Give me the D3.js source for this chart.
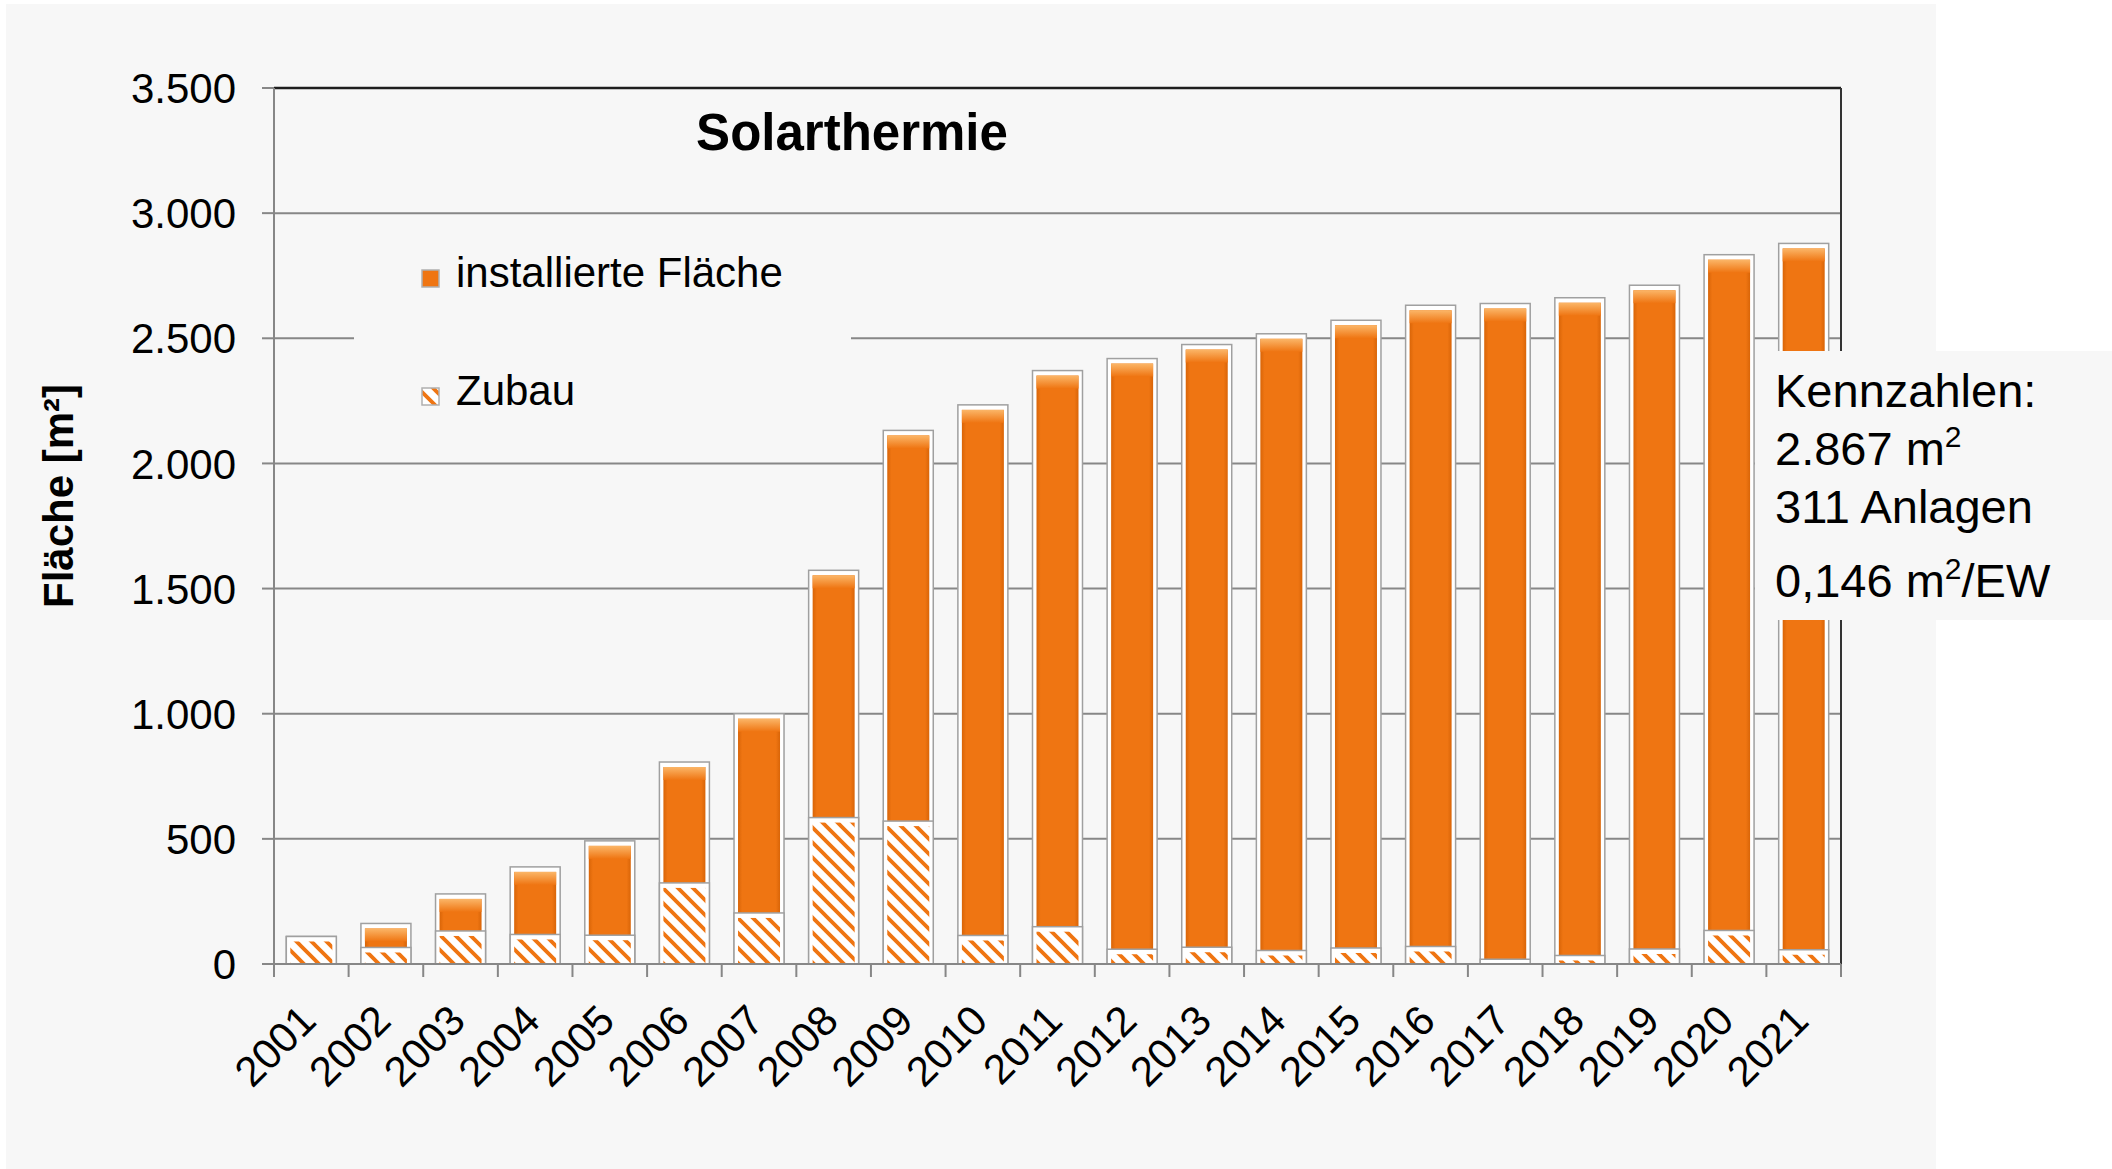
<!DOCTYPE html>
<html>
<head>
<meta charset="utf-8">
<script src="https://cdn.jsdelivr.net/npm/d3@7"></script>
<style>
body { margin: 0; background: #fff; }
svg { display: block; font-family: "Liberation Sans", Arial, sans-serif; }
</style>
</head>
<body>
<div class="solar-chart"></div>
<script>
// data
const years = ["2001", "2002", "2003", "2004", "2005", "2006", "2007", "2008", "2009", "2010",
    "2011", "2012", "2013", "2014", "2015", "2016", "2017", "2018", "2019", "2020", "2021"];
const installiert = [98, 150, 268, 376, 480, 795, 988, 1561, 2120, 2222,
    2359, 2407, 2463, 2506, 2560, 2620, 2627, 2650, 2700, 2822, 2867];
const zubau = [98, 54, 120, 106, 103, 312, 192, 573, 559, 102,
    137, 47, 55, 42, 52, 58, 7, 22, 48, 122, 45];
const yTicks = [0, 500, 1000, 1500, 2000, 2500, 3000, 3500];
const legendNames = ["installierte Fläche", "Zubau"];

const width = 2112;
const height = 1169;
const orange = "#ef7512";

const de = d3.formatLocale({decimal: ",", thousands: ".", grouping: [3], currency: ["", " €"]});
const fmt = de.format(",d");

const svg = d3.select('.solar-chart')
    .append('svg')
    .attr('width', width)
    .attr('height', height);

const defs = svg.append('defs');
const hatch = defs.append('pattern')
    .attr('id', 'hatch')
    .attr('patternUnits', 'userSpaceOnUse')
    .attr('width', 15)
    .attr('height', 15);
hatch.append('rect').attr('width', 15).attr('height', 15).attr('fill', '#fff');
hatch.append('path')
    .attr('d', 'M0,0 L15,15 M-5,10 L5,20 M10,-5 L20,5')
    .attr('stroke', orange)
    .attr('stroke-width', 3.8);

const cap = defs.append('linearGradient')
    .attr('id', 'cap')
    .attr('x1', 0).attr('y1', 0).attr('x2', 0).attr('y2', 1);
cap.append('stop').attr('offset', 0).attr('stop-color', '#fbb668');
cap.append('stop').attr('offset', 1).attr('stop-color', orange);

const side = defs.append('linearGradient')
    .attr('id', 'side')
    .attr('x1', 0).attr('y1', 0).attr('x2', 1).attr('y2', 0);
side.append('stop').attr('offset', 0).attr('stop-color', '#d96508');
side.append('stop').attr('offset', 0.1).attr('stop-color', orange);
side.append('stop').attr('offset', 0.9).attr('stop-color', orange);
side.append('stop').attr('offset', 1).attr('stop-color', '#d96508');

// panel
svg.append('rect')
    .attr('x', 6).attr('y', 4)
    .attr('width', 1930).attr('height', height - 4)
    .attr('fill', '#f7f7f7');

const x = d3.scaleBand().domain(years).range([274, 1841]).padding(0);
const y = d3.scaleLinear().domain([0, 3500]).range([964, 88]);

// gridlines
svg.selectAll('.grid')
    .data(yTicks.filter(d => d > 0 && d < 3500))
    .enter()
    .append('line')
    .attr('class', 'grid')
    .attr('x1', 274).attr('x2', 1841)
    .attr('y1', d => y(d)).attr('y2', d => y(d))
    .attr('stroke', '#878787')
    .attr('stroke-width', 2);

// legend box hides part of the grid
const legend = svg.append('g');
legend.append('rect')
    .attr('x', 354).attr('y', 232)
    .attr('width', 497).attr('height', 200)
    .attr('fill', '#f7f7f7');

legendNames.forEach(function(name, i) {
    let ly = 287 + i * 118;
    legend.append('rect')
        .attr('x', 422).attr('y', ly - 17)
        .attr('width', 17).attr('height', 17)
        .attr('fill', i === 0 ? orange : 'url(#hatch)')
        .attr('stroke', '#b0b0b0')
        .attr('stroke-width', 1.5);
    legend.append('text')
        .attr('x', 456).attr('y', ly)
        .attr('font-size', 42)
        .attr('fill', '#000')
        .text(name);
});

// bars
const bw = x.bandwidth() * 0.67;
function cx(i) { return x(years[i]) + x.bandwidth() / 2; }

function drawSegment(g, i, v0, v1, fill) {
    let top = y(v1);
    let bottom = y(v0);
    g.append('rect')
        .attr('x', cx(i) - bw / 2).attr('y', top - 3)
        .attr('width', bw).attr('height', bottom - top + 3)
        .attr('fill', '#fff')
        .attr('stroke', '#a0a0a0')
        .attr('stroke-width', 1.5);
    let ih = bottom - top - 2;
    if (ih <= 0) return;
    g.append('rect')
        .attr('x', cx(i) - bw / 2 + 4).attr('y', top + 2)
        .attr('width', bw - 8).attr('height', ih)
        .attr('fill', fill);
    if (fill !== 'url(#hatch)') {
        g.append('rect')
            .attr('x', cx(i) - bw / 2 + 4).attr('y', top + 2)
            .attr('width', bw - 8).attr('height', Math.min(13, ih))
            .attr('fill', 'url(#cap)');
    }
}

const bars = svg.append('g');
installiert.forEach(function(d, i) {
    drawSegment(bars, i, 0, d, 'url(#side)');
});
zubau.forEach(function(d, i) {
    drawSegment(bars, i, 0, d, 'url(#hatch)');
});

// axes
svg.append('line')
    .attr('x1', 274).attr('x2', 1841).attr('y1', 88).attr('y2', 88)
    .attr('stroke', '#1e1e1e').attr('stroke-width', 2.5);
svg.append('line')
    .attr('x1', 1841).attr('x2', 1841).attr('y1', 88).attr('y2', 964)
    .attr('stroke', '#333').attr('stroke-width', 2);
svg.append('line')
    .attr('x1', 274).attr('x2', 274).attr('y1', 88).attr('y2', 965)
    .attr('stroke', '#878787').attr('stroke-width', 2);
svg.append('line')
    .attr('x1', 262).attr('x2', 1841).attr('y1', y(0)).attr('y2', y(0))
    .attr('stroke', '#878787').attr('stroke-width', 2);

svg.selectAll('.ytick')
    .data(yTicks)
    .enter()
    .append('line')
    .attr('class', 'ytick')
    .attr('x1', 262).attr('x2', 274)
    .attr('y1', d => y(d)).attr('y2', d => y(d))
    .attr('stroke', '#878787').attr('stroke-width', 2);

svg.selectAll('.ylabel')
    .data(yTicks)
    .enter()
    .append('text')
    .attr('class', 'ylabel')
    .attr('x', 236)
    .attr('y', d => y(d))
    .attr('dy', '0.36em')
    .attr('text-anchor', 'end')
    .attr('font-size', 42)
    .text(d => fmt(d));

svg.selectAll('.xtick')
    .data(years.concat(['end']))
    .enter()
    .append('line')
    .attr('class', 'xtick')
    .attr('x1', (d, i) => 274 + i * x.step())
    .attr('x2', (d, i) => 274 + i * x.step())
    .attr('y1', 964).attr('y2', 977)
    .attr('stroke', '#878787').attr('stroke-width', 2);

svg.selectAll('.xlabel')
    .data(years)
    .enter()
    .append('text')
    .attr('class', 'xlabel')
    .attr('text-anchor', 'end')
    .attr('font-size', 42)
    .attr('transform', (d, i) => 'translate(' + (cx(i) + 7) + ',1023) rotate(-45)')
    .text(d => d);

// axis title
svg.append('text')
    .attr('transform', 'translate(73,496) rotate(-90)')
    .attr('text-anchor', 'middle')
    .attr('font-size', 42)
    .attr('font-weight', 'bold')
    .text('Fläche [m²]');

// chart title
svg.append('text')
    .attr('x', 852).attr('y', 150)
    .attr('text-anchor', 'middle')
    .attr('font-size', 51)
    .attr('font-weight', 'bold')
    .text('Solarthermie');

// Kennzahlen box
svg.append('rect')
    .attr('x', 1755).attr('y', 351)
    .attr('width', width - 1755).attr('height', 269)
    .attr('fill', '#f7f7f7');

const kz = svg.append('g').attr('font-size', 47);
kz.append('text').attr('x', 1775).attr('y', 407).text('Kennzahlen:');
let t2 = kz.append('text').attr('x', 1775).attr('y', 465);
t2.append('tspan').text('2.867 m');
t2.append('tspan').attr('font-size', 30).attr('dy', -18).text('2');
kz.append('text').attr('x', 1775).attr('y', 523).text('311 Anlagen');
let t4 = kz.append('text').attr('x', 1775).attr('y', 597);
t4.append('tspan').text('0,146 m');
t4.append('tspan').attr('font-size', 30).attr('dy', -18).text('2');
t4.append('tspan').attr('dy', 18).text('/EW');
</script>
</body>
</html>
